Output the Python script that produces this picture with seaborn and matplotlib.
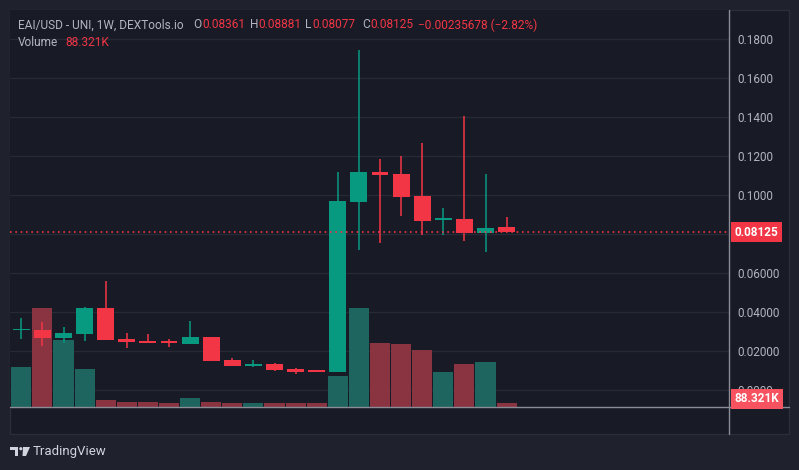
import numpy as np
import pandas as pd
import matplotlib
matplotlib.use("Agg")
import matplotlib.pyplot as plt
import matplotlib.patches as mpatches
import matplotlib.lines as mlines
import seaborn as sns

# ---------------- data ----------------
week_start = pd.date_range("2024-06-03", periods=24, freq="7D")
opens = [0.0306, 0.0308, 0.0268, 0.0289, 0.0421, 0.0262, 0.0253, 0.0248, 0.0236, 0.0272,
         0.0154, 0.0123, 0.0133, 0.0108, 0.0099, 0.0092, 0.0964, 0.1118, 0.1108, 0.0995,
         0.0874, 0.0877, 0.0807, 0.08361]
highs = [0.0369, 0.0349, 0.0323, 0.0426, 0.0559, 0.0292, 0.0287, 0.0262, 0.0354, 0.0272,
         0.0164, 0.0154, 0.0138, 0.0113, 0.0103, 0.1118, 0.1744, 0.1185, 0.1200, 0.1267,
         0.0933, 0.1405, 0.1108, 0.08881]
lows = [0.0261, 0.0227, 0.0243, 0.0253, 0.0258, 0.0217, 0.0243, 0.0222, 0.0236, 0.0150,
        0.0125, 0.0118, 0.0097, 0.0082, 0.0092, 0.0092, 0.0718, 0.0754, 0.0892, 0.0795,
        0.0795, 0.0764, 0.0708, 0.08077]
closes = [0.0307, 0.0268, 0.0292, 0.0421, 0.0258, 0.0248, 0.0243, 0.0241, 0.0272, 0.0150,
          0.0125, 0.0133, 0.0103, 0.0092, 0.0092, 0.0969, 0.1118, 0.1103, 0.0990, 0.0867,
          0.0877, 0.0805, 0.0831, 0.08125]
volumes_k = [949, 2359, 1594, 901, 160, 112, 112, 88, 208, 112, 88, 88, 88, 88, 88,
             734, 2359, 1522, 1499, 1355, 829, 1021, 1068, 88.321]

month_labels = ["Jun", "Jul", "Aug", "Sep", "Oct", "Nov", "Dec", "2025"]
month_pos = [0, 5, 10, 14, 19, 23, 27, 32]          # week index of first bar in month
price_ticks = [0.0, 0.02, 0.04, 0.06, 0.08, 0.10, 0.12, 0.14, 0.16, 0.18]
# the 0.08 label is hidden behind the last-price marker in the reference
price_tick_labels = ["0.0000", "0.02000", "0.04000", "0.06000", "",
                     "0.1000", "0.1200", "0.1400", "0.1600", "0.1800"]
last_price = 0.08125
last_volume_label = "88.321K"

# ---------------- style ----------------
GREEN = "#089981"
RED = "#F23645"
VOL_GREEN = "#1d655e"
VOL_RED = "#8a3341"
BG_OUT = "#1f222c"
BG_PANEL = "#181a25"
GRID = "#262a36"
TEXT = "#b2b5be"

sns.set_theme(style="dark")
plt.rcParams["font.family"] = ["Roboto", "DejaVu Sans"]

W, H = 799, 470
fig = plt.figure(figsize=(W / 100, H / 100), dpi=100, facecolor=BG_OUT)

def fx(px):
    return px / W

def fy(py):
    return 1 - py / H

# chart panel background
fig.patches.append(mpatches.Rectangle((fx(10), fy(434)), fx(779), 424 / H,
                                      transform=fig.transFigure, facecolor=BG_PANEL,
                                      edgecolor="#2a2e39", linewidth=1, zorder=-10))

ax = fig.add_axes([fx(10), fy(407), fx(719), 397 / H])
ax.set_facecolor(BG_PANEL)
axv = ax.twinx()
axc = ax.twinx()

x = np.arange(len(opens))
df = pd.DataFrame({"week": x, "date": week_start, "open": opens, "high": highs,
                   "low": lows, "close": closes, "volume": volumes_k})
df["dir"] = np.where(df["close"] >= df["open"], "up", "down")

xlim = (-0.536, 33.54)
ylim = (-0.00872, 0.19487)

# grid + ticks on base axes
ax.set_xlim(xlim)
ax.set_ylim(ylim)
ax.set_yticks(price_ticks)
ax.set_yticklabels(price_tick_labels)
ax.set_xticks(month_pos)
ax.set_xticklabels(month_labels)
ax.yaxis.tick_right()
ax.yaxis.set_label_position("right")
ax.grid(True, color=GRID, linewidth=1)
ax.tick_params(axis="both", length=0, colors=TEXT, labelsize=8.5)
ax.tick_params(axis="y", pad=6)
ax.tick_params(axis="x", pad=6)
for s in ax.spines.values():
    s.set_visible(False)

# volume bars
sns.barplot(data=df, x="week", y="volume", hue="dir", native_scale=True,
            palette={"up": VOL_GREEN, "down": VOL_RED}, width=0.95, dodge=False,
            legend=False, ax=axv, saturation=1, linewidth=0)
axv.set_xlim(xlim)
axv.set_ylim(0, 9480)
axv.set_yticks([])
axv.set_xticks([])
axv.set_xlabel("")
axv.set_ylabel("")
axv.patch.set_visible(False)
axv.grid(False)
for s in axv.spines.values():
    s.set_visible(False)

# candles
colors = [GREEN if d == "up" else RED for d in df["dir"]]
axc.vlines(df["week"], df["low"], df["high"], colors=colors, linewidth=1.1)
body_lo = np.minimum(df["open"], df["close"])
body_h = np.maximum(np.abs(df["close"] - df["open"]), 0.0009)
axc.bar(df["week"], body_h, bottom=body_lo, width=0.8, color=colors, linewidth=0)
axc.axhline(last_price, color=RED, linewidth=1.2, linestyle=(0, (1, 2.2)))
axc.set_xlim(xlim)
axc.set_ylim(ylim)
axc.set_yticks([])
axc.set_xticks([])
axc.patch.set_visible(False)
axc.grid(False)
for s in axc.spines.values():
    s.set_visible(False)

# axis separator lines
fig.lines.append(mlines.Line2D([fx(10), fx(789)], [fy(407.3), fy(407.3)],
                               transform=fig.transFigure, color="#8a8d96", linewidth=1))
fig.lines.append(mlines.Line2D([fx(729.3), fx(729.3)], [fy(10), fy(434)],
                               transform=fig.transFigure, color="#8a8d96", linewidth=1))

# price / volume labels on the scale
fig.text(fx(756.5), fy(232), f"{last_price:.5f}", color="white", fontsize=8.5,
         fontweight="bold", ha="center", va="center",
         bbox=dict(boxstyle="square,pad=0.28", facecolor=RED, edgecolor="none"))
fig.text(fx(757), fy(399), last_volume_label, color="white", fontsize=8.5,
         fontweight="bold", ha="center", va="center",
         bbox=dict(boxstyle="square,pad=0.28", facecolor="#F7525F", edgecolor="none"))

# header legend
hdr_y = fy(25)
HF = 8.6
fig.text(fx(18), hdr_y, "EAI/USD - UNI, 1W, DEXTools.io", color=TEXT, fontsize=HF,
         ha="left", va="center")
for lx, lab, vx, val in [(193, "O", 202, opens[-1]), (250, "H", 258, highs[-1]),
                         (305, "L", 312, lows[-1]), (362, "C", 370, closes[-1])]:
    fig.text(fx(lx), hdr_y, lab, color=TEXT, fontsize=HF, ha="left", va="center")
    fig.text(fx(vx), hdr_y, f"{val:.5f}", color=RED, fontsize=HF, ha="left", va="center")
fig.text(fx(418), hdr_y, "\u22120.00235678 (\u22122.82%)", color=RED, fontsize=HF,
         ha="left", va="center")
fig.text(fx(18), fy(42), "Volume", color=TEXT, fontsize=HF, ha="left", va="center")
fig.text(fx(65), fy(42), last_volume_label, color=RED, fontsize=HF, ha="left", va="center")

# TradingView logo
LOGO = "#d1d4dc"
tf = fig.transFigure
fig.patches.append(mpatches.Rectangle((fx(10), fy(450)), fx(8), 3 / H, transform=tf,
                                      facecolor=LOGO, edgecolor="none"))
fig.patches.append(mpatches.Rectangle((fx(15), fy(456)), fx(3), 9 / H, transform=tf,
                                      facecolor=LOGO, edgecolor="none"))
fig.patches.append(mpatches.Ellipse((fx(20.8), fy(448.7)), fx(3.2), 3.2 / H, transform=tf,
                                    facecolor=LOGO, edgecolor="none"))
fig.patches.append(mpatches.Polygon([(fx(23), fy(447)), (fx(30), fy(447)),
                                     (fx(26), fy(456)), (fx(22.5), fy(456))],
                                    closed=True, transform=tf, facecolor=LOGO,
                                    edgecolor="none"))
fig.text(fx(33), fy(452), "TradingView", color=LOGO, fontsize=9.5, ha="left", va="center")

fig.savefig("out.png", dpi=100, facecolor=BG_OUT)
